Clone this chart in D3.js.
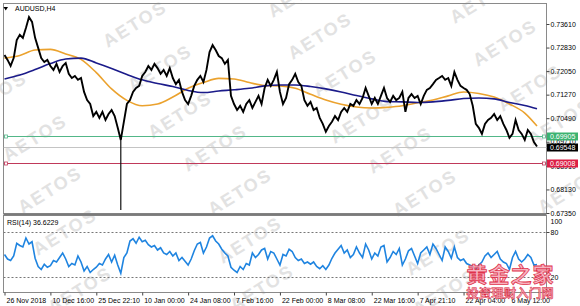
<!DOCTYPE html>
<html><head><meta charset="utf-8">
<script src="https://cdn.jsdelivr.net/npm/d3@7/dist/d3.min.js"></script>
<style>html,body{margin:0;padding:0;background:#fff;overflow:hidden}</style>
</head><body><svg id="c" width="580" height="306"></svg>
<script>
// ---------- DATA ----------
const symbol = "AUDUSD,H4";
const closes = [
0.7258,0.7242,0.7222,0.7248,0.7308,0.7325,0.7315,0.7348,0.7384,0.7368,
0.7315,0.7282,0.7248,0.7235,0.7242,0.7222,0.7209,0.7229,0.7202,0.7222,
0.7232,0.7196,0.7182,0.7189,0.7176,0.7182,0.7136,0.7109,0.7096,0.7056,
0.7070,0.7050,0.7070,0.7043,0.7063,0.7076,0.7056,0.7017,0.6977,0.7037,
0.7096,0.7109,0.7136,0.7149,0.7156,0.7189,0.7202,0.7222,0.7209,0.7229,
0.7215,0.7196,0.7209,0.7189,0.7215,0.7182,0.7162,0.7176,0.7136,0.7109,
0.7096,0.7123,0.7156,0.7176,0.7189,0.7169,0.7209,0.7268,0.7291,0.7275,
0.7255,0.7248,0.7229,0.7242,0.7123,0.7096,0.7076,0.7090,0.7070,0.7096,
0.7109,0.7083,0.7103,0.7123,0.7096,0.7149,0.7176,0.7156,0.7176,0.7202,
0.7136,0.7096,0.7116,0.7162,0.7176,0.7196,0.7169,0.7156,0.7109,0.7090,
0.7103,0.7076,0.7083,0.7050,0.7030,0.7004,0.7023,0.7037,0.7056,0.7043,
0.7070,0.7083,0.7070,0.7096,0.7090,0.7109,0.7096,0.7116,0.7149,0.7123,
0.7096,0.7116,0.7096,0.7123,0.7149,0.7116,0.7103,0.7123,0.7109,0.7116,
0.7136,0.7070,0.7116,0.7129,0.7116,0.7123,0.7096,0.7123,0.7143,0.7149,
0.7162,0.7176,0.7182,0.7189,0.7176,0.7182,0.7156,0.7202,0.7176,0.7156,
0.7149,0.7143,0.7129,0.7090,0.7030,0.7017,0.6997,0.7030,0.7043,0.7050,
0.7063,0.7043,0.7056,0.7030,0.7010,0.6984,0.6997,0.7043,0.7010,0.6997,
0.6977,0.7010,0.6997,0.6970,0.6955];
const crashBar = 38;          // flash-crash bar (3 Jan 2019)
const crashLow = 0.6745;
const maBars = [0,5,10,15,20,25,30,35,40,45,50,55,60,65,70,75,80,85,90,95,100,105,110,115,120,125,130,135,140,145,150,155,160,165,170,174];
const maFast = [0.7248,0.7257,0.7275,0.7277,0.7262,0.7244,0.7200,0.7146,0.7108,0.7090,0.7096,0.7119,0.7148,0.7167,0.7181,0.7179,0.7167,0.7157,0.7156,0.7148,0.7128,0.7109,0.7095,0.7086,0.7083,0.7085,0.7090,0.7100,0.7109,0.7123,0.7136,0.7131,0.7119,0.7096,0.7066,0.7023];
const maSlow = [0.7179,0.7192,0.7210,0.7230,0.7245,0.7248,0.7232,0.7214,0.7194,0.7176,0.7164,0.7154,0.7141,0.7134,0.7139,0.7143,0.7148,0.7156,0.7159,0.7159,0.7154,0.7146,0.7136,0.7124,0.7113,0.7104,0.7103,0.7101,0.7103,0.7108,0.7114,0.7116,0.7113,0.7101,0.7091,0.7080];
const rsi = [
50,44,42,48,65,62,60,72,64,67,
45,34,30,37,33,35,42,40,46,52,
44,34,38,36,48,40,28,34,26,30,
33,38,36,44,50,40,49,36,25,46,
52,68,71,65,73,67,69,63,60,62,
56,59,52,50,54,48,52,42,46,41,
36,44,55,64,66,52,60,72,75,68,
64,57,52,48,33,29,26,34,30,38,
36,52,46,50,56,58,44,54,52,44,
36,50,48,57,54,46,42,44,38,40,
37,40,34,31,35,30,36,45,52,57,
62,52,56,46,50,60,52,46,64,56,
44,52,48,60,62,40,46,54,50,58,
36,44,55,58,48,38,52,56,60,50,
64,58,50,42,60,54,45,60,46,42,
44,38,36,34,30,36,40,48,52,46,
50,54,44,40,38,30,46,54,44,40,
44,50,46,36,36.6229];
const rsiLabel = "RSI(14) 36.6229";
const priceTicks = [0.73610,0.72830,0.72050,0.71270,0.70490,0.69710,0.68910,0.68130,0.67350];
const rsiTicks = [100,80,20];
const rsiLevels = [80,20];
const dateBars = [0,15,30,45,60,75,90,105,120,135,150,165];
const dateLabels = ["26 Nov 2018","10 Dec 16:00","25 Dec 22:10","10 Jan 00:00","24 Jan 08:00","7 Feb 16:00","22 Feb 00:00","8 Mar 08:00","22 Mar 16:00","7 Apr 21:10","22 Apr 04:00","6 May 12:00"];
const levelUpper = 0.69905;
const levelLower = 0.69008;
const lastPrice = 0.69548;
const watermarkText = "AETOS";
const siteTitle = "黄金之家";
const siteSub = "投资理财入门网";

// ---------- LAYOUT ----------
const FONT = "'Liberation Sans', Arial, sans-serif";
const L = 3.5, R = 546.5, T = 3.5, MB = 213.5, RT = 215.5, RB = 292.5;
const svg = d3.select('#c');
const x = d3.scaleLinear().domain([0, closes.length - 1]).range([4.5, 537]);
const y = d3.scaleLinear().domain([0.6735, 0.7361]).range([213, 24]);
const yr = d3.scaleLinear().domain([0, 100]).range([292, 217]);

svg.append('rect').attr('width', 580).attr('height', 306).attr('fill', '#fff');

// watermarks (decorative)
const wmPos = [[300,-6],[482,0],[135,24],[320,36],[505,43],[-5,95],[160,68],[345,73],[530,88],
  [180,115],[362,120],[560,122],[35,138],[215,148],[400,150],[50,190],[240,192],[425,193],[570,190],
  [65,232],[250,240],[438,252],[80,290],[262,288],[445,292]];
svg.append('g').selectAll('text').data(wmPos).join('text')
  .attr('transform', d => `translate(${d[0]},${d[1]}) rotate(-32)`)
  .attr('text-anchor', 'middle').attr('dominant-baseline', 'central')
  .attr('font-family', FONT).attr('font-weight', 'bold').attr('font-size', 18)
  .attr('letter-spacing', 2).attr('fill', '#e2e2e2').text(watermarkText);

const defs = svg.append('defs');
defs.append('clipPath').attr('id', 'cm').append('rect').attr('x', L).attr('y', T).attr('width', R - L).attr('height', MB - T);
defs.append('clipPath').attr('id', 'cr').append('rect').attr('x', L).attr('y', RT).attr('width', R - L).attr('height', RB - RT);

// frames
svg.append('rect').attr('x', L).attr('y', T).attr('width', R - L).attr('height', MB - T).attr('fill', 'none').attr('stroke', '#8a8a8a');
svg.append('rect').attr('x', L).attr('y', RT).attr('width', R - L).attr('height', RB - RT).attr('fill', 'none').attr('stroke', '#8a8a8a');
svg.append('line').attr('x1', L).attr('x2', R).attr('y1', 214.5).attr('y2', 214.5).attr('stroke', '#7a7a7a').attr('stroke-width', 2);

const gm = svg.append('g').attr('clip-path', 'url(#cm)');
// horizontal levels
const hl = [[levelUpper, '#52b788'], [lastPrice, '#c4c4c4'], [levelLower, '#c0395a']];
hl.forEach(([v, c]) => {
  gm.append('line').attr('x1', L).attr('x2', R).attr('y1', Math.round(y(v)) + 0.5).attr('y2', Math.round(y(v)) + 0.5).attr('stroke', c).attr('stroke-width', 1);
});
[[levelUpper, '#52b788'], [levelLower, '#c0395a']].forEach(([v, c]) => {
  [6, 544].forEach(px => {
    svg.append('rect').attr('x', px - 1.5).attr('y', Math.round(y(v)) - 1).attr('width', 3).attr('height', 3)
      .attr('fill', '#fff').attr('stroke', c).attr('stroke-width', 0.8);
  });
});

// moving averages
const maLine = d3.line().x((d, i) => x(maBars[i])).y(d => y(d)).curve(d3.curveMonotoneX);
gm.append('path').attr('d', maLine(maFast)).attr('fill', 'none').attr('stroke', '#eba22e').attr('stroke-width', 1.6);
gm.append('path').attr('d', maLine(maSlow)).attr('fill', 'none').attr('stroke', '#1b1b8a').attr('stroke-width', 1.6);

// price
gm.append('line').attr('x1', x(crashBar)).attr('x2', x(crashBar)).attr('y1', y(closes[crashBar])).attr('y2', y(crashLow)).attr('stroke', '#111').attr('stroke-width', 1.2);
const pLine = d3.line().x((d, i) => x(i)).y(d => y(d));
gm.append('path').attr('d', pLine(closes)).attr('fill', 'none').attr('stroke', '#000').attr('stroke-width', 1.9).attr('stroke-linejoin', 'miter');

// title
svg.append('path').attr('d', 'M3.5,7 L8,7 L5.75,10.5 Z').attr('fill', '#000');
svg.append('text').attr('x', 15).attr('y', 11).attr('font-family', FONT).attr('font-size', 7).attr('fill', '#000').text(symbol);

// RSI
const gr = svg.append('g').attr('clip-path', 'url(#cr)');
rsiLevels.forEach(v => {
  gr.append('line').attr('x1', L).attr('x2', R).attr('y1', Math.round(yr(v)) + 0.5).attr('y2', Math.round(yr(v)) + 0.5)
    .attr('stroke', '#777').attr('stroke-dasharray', '2,2');
});
const rLine = d3.line().x((d, i) => x(i)).y(d => yr(d));
gr.append('path').attr('d', rLine(rsi)).attr('fill', 'none').attr('stroke', '#1f84e0').attr('stroke-width', 1.6);
svg.append('text').attr('x', 7).attr('y', 225).attr('font-family', FONT).attr('font-size', 7).attr('fill', '#000').text(rsiLabel);

// axes
const pAxis = svg.append('g').attr('transform', `translate(${R},0)`)
  .call(d3.axisRight(y).tickValues(priceTicks).tickSize(3).tickPadding(1).tickFormat(d3.format('.5f')));
const rAxis = svg.append('g').attr('transform', `translate(${R},0)`)
  .call(d3.axisRight(yr).tickValues(rsiTicks).tickSize(3).tickPadding(1).tickFormat(d3.format('d')));
rAxis.selectAll('.tick').filter(d => d === 100).attr('transform', `translate(0,${yr(100) + 4.5})`).select('line').remove();
const dAxis = svg.append('g').attr('transform', `translate(0,${RB})`)
  .call(d3.axisBottom(x).tickValues(dateBars).tickSize(3).tickPadding(2.5).tickFormat((d, i) => dateLabels[i]));
[pAxis, rAxis, dAxis].forEach(g => {
  g.select('.domain').remove();
  g.selectAll('line').attr('stroke', '#444');
  g.selectAll('text').attr('font-family', FONT).attr('font-size', 7).attr('fill', '#000');
});
dAxis.selectAll('text').attr('text-anchor', 'start').attr('x', 1.5);

// price tags
[[levelUpper, '#3cb371'], [lastPrice, '#000'], [levelLower, '#dc1f45']].forEach(([v, c]) => {
  const cy = Math.round(y(v)) + 0.5;
  svg.append('rect').attr('x', 547).attr('y', cy - 4).attr('width', 31).attr('height', 8).attr('fill', c);
  svg.append('text').attr('x', 550).attr('y', cy).attr('dy', '0.34em').attr('font-family', FONT).attr('font-size', 7)
    .attr('fill', '#fff').text(d3.format('.5f')(v));
});

// site watermark
svg.append('text').attr('x', 510.5).attr('y', 273).attr('text-anchor', 'middle').attr('dominant-baseline', 'central')
  .attr('font-family', "'Noto Sans CJK SC', sans-serif").attr('font-weight', 'bold').attr('font-size', 21).attr('letter-spacing', 1)
  .attr('fill', '#f6a7b6').attr('fill-opacity', 0.85).attr('stroke', '#e0334c').attr('stroke-width', 0.8).text(siteTitle);
svg.append('text').attr('x', 510).attr('y', 292).attr('text-anchor', 'middle').attr('dominant-baseline', 'central')
  .attr('font-family', "'Noto Sans CJK SC', sans-serif").attr('font-weight', 'bold').attr('font-size', 12.5)
  .attr('fill', '#f29aaa').attr('fill-opacity', 0.9).attr('stroke', '#d9283f').attr('stroke-width', 0.5).text(siteSub);
</script></body></html>
